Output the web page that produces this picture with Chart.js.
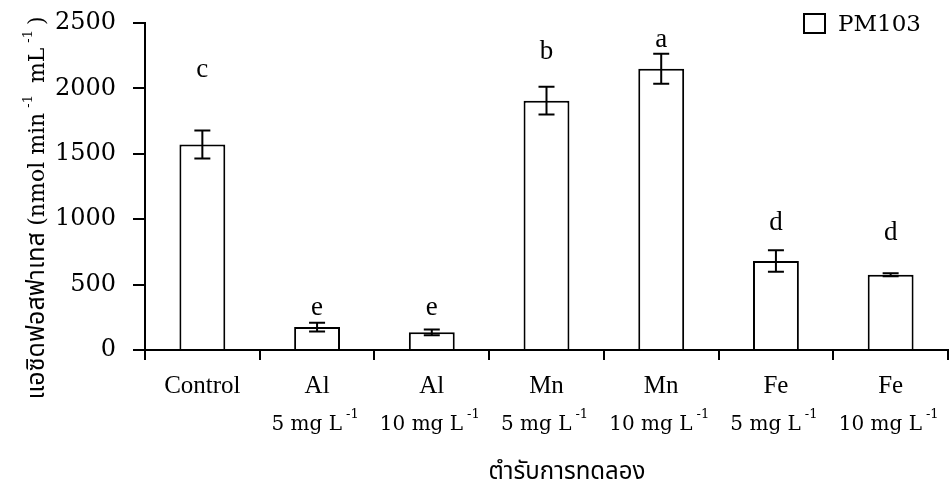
<!DOCTYPE html>
<html>
<head>
<meta charset="utf-8">
<script src="https://cdn.jsdelivr.net/npm/chart.js@4.4.1/dist/chart.umd.min.js"></script>
<style>
  html, body { margin: 0; padding: 0; background: #fff; }
  #wrap { width: 951px; height: 483px; }
</style>
</head>
<body>
<div id="wrap"><canvas id="c" width="951" height="483"></canvas></div>
<script>
// Treatments: element name (first label line) and dose (second label line)
const treatments = ['Control', 'Al', 'Al', 'Mn', 'Mn', 'Fe', 'Fe'];
const doses = ['', '5 mg L', '10 mg L', '5 mg L', '10 mg L', '5 mg L', '10 mg L'];

// Acid phosphatase activity (nmol min-1 mL-1), mean and standard error
const activity = [1572, 175, 135, 1906, 2150, 680, 575];
const stdErr = [107, 33, 22, 106, 115, 82, 12];

// Statistical grouping letters and the level (in data units) they sit at
const groupLetters = ['c', 'e', 'e', 'b', 'a', 'd', 'd'];
const letterLevel = [2140, 322, 322, 2280, 2370, 972, 896];

// Value axis
const yMin = 0;
const yMax = 2500;
const yStep = 500;

const seriesName = 'PM103';
const yTitleThai = 'แอซิดฟอสฟาเทส';
const yTitleUnit = [['(nmol min', false], ['-1', true], [' mL', false], ['-1', true], [')', false]];
const xTitle = 'ตำรับการทดลอง';

const SERIF = '"DejaVu Serif", serif';
const TIMES = '"Liberation Serif", "Times New Roman", serif';
const THAI = '"Noto Sans Thai", "Noto Sans Thai Looped", Loma, Garuda, Tahoma, sans-serif';

// Width of a run of [text, isSuperscript] pieces
function runWidth(ctx, parts, font, supFont, supGap) {
  let w = 0;
  parts.forEach(([t, sup]) => {
    ctx.font = sup ? supFont : font;
    w += ctx.measureText(t).width + (sup ? supGap * 2 : 0);
  });
  return w;
}
// Draws a run of [text, isSuperscript] pieces starting at x on baseline y
function drawRun(ctx, parts, x, y, font, supFont, supGap, supRise) {
  parts.forEach(([t, sup]) => {
    ctx.font = sup ? supFont : font;
    if (sup) x += supGap;
    ctx.fillText(t, x, sup ? y - supRise : y);
    x += ctx.measureText(t).width + (sup ? supGap : 0);
  });
}

const annotations = {
  id: 'annotations',
  afterDatasetsDraw(chart) {
    const { ctx } = chart;
    const xs = chart.scales.x;
    const ys = chart.scales.y;
    ctx.save();
    ctx.fillStyle = '#000';
    ctx.strokeStyle = '#000';

    // error bars
    ctx.lineWidth = 2;
    const cap = 8;
    activity.forEach((v, i) => {
      const x = xs.getPixelForValue(i);
      const top = ys.getPixelForValue(v + stdErr[i]);
      const bot = ys.getPixelForValue(v - stdErr[i]);
      ctx.beginPath();
      ctx.moveTo(x, top); ctx.lineTo(x, bot);
      ctx.moveTo(x - cap, top); ctx.lineTo(x + cap, top);
      ctx.moveTo(x - cap, bot); ctx.lineTo(x + cap, bot);
      ctx.stroke();
    });

    // grouping letters
    ctx.font = '27px ' + TIMES;
    ctx.textAlign = 'center';
    ctx.textBaseline = 'middle';
    groupLetters.forEach((l, i) => {
      ctx.fillText(l, xs.getPixelForValue(i), ys.getPixelForValue(letterLevel[i]));
    });

    // second line of category labels: dose with superscript unit
    ctx.textAlign = 'left';
    ctx.textBaseline = 'alphabetic';
    const f = '20px ' + SERIF;
    const sf = '13px ' + SERIF;
    doses.forEach((d, i) => {
      if (!d) return;
      const parts = [[d, false], ['-1', true]];
      const w = runWidth(ctx, parts, f, sf, 4);
      drawRun(ctx, parts, xs.getPixelForValue(i) - w / 2, 430, f, sf, 4, 12);
    });

    // x axis title
    ctx.font = '24px ' + THAI;
    ctx.textAlign = 'center';
    ctx.textBaseline = 'alphabetic';
    ctx.fillText(xTitle, 567, 479);

    // y axis title, rotated
    ctx.save();
    ctx.translate(44, 208);
    ctx.rotate(-Math.PI / 2);
    ctx.textAlign = 'left';
    const yf = '22px ' + SERIF;
    const ysf = '13px ' + SERIF;
    ctx.font = '25px ' + THAI;
    const thaiW = ctx.measureText(yTitleThai + ' ').width;
    const unitW = runWidth(ctx, yTitleUnit, yf, ysf, 5);
    const start = -(thaiW + unitW) / 2;
    ctx.font = '25px ' + THAI;
    ctx.fillText(yTitleThai + ' ', start, 0);
    drawRun(ctx, yTitleUnit, start + thaiW, 0, yf, ysf, 5, 12);
    ctx.restore();

    // legend
    const ds = chart.data.datasets[0];
    ctx.lineWidth = 2;
    ctx.strokeStyle = ds.borderColor;
    ctx.fillStyle = ds.backgroundColor;
    ctx.fillRect(804, 14, 21, 19);
    ctx.strokeRect(804, 14, 21, 19);
    ctx.fillStyle = '#000';
    ctx.font = '23px ' + SERIF;
    ctx.textAlign = 'left';
    ctx.textBaseline = 'middle';
    ctx.fillText(ds.label, 838, 25);

    ctx.restore();
  }
};

new Chart(document.getElementById('c'), {
  type: 'bar',
  data: {
    labels: treatments,
    datasets: [{
      label: seriesName,
      data: activity,
      backgroundColor: '#ffffff',
      borderColor: '#000000',
      borderWidth: 2,
      borderSkipped: 'bottom',
      categoryPercentage: 1.0,
      barPercentage: 0.4
    }]
  },
  options: {
    responsive: false,
    devicePixelRatio: 1,
    animation: false,
    layout: { padding: { left: 0, right: 3, top: 23, bottom: 0 } },
    plugins: {
      legend: { display: false },
      tooltip: { enabled: false }
    },
    scales: {
      x: {
        grid: {
          display: true,
          drawOnChartArea: false,
          drawTicks: true,
          tickLength: 10,
          color: '#000',
          lineWidth: 2,
          offset: true
        },
        border: { display: true, color: '#000', width: 2 },
        ticks: {
          color: '#000',
          font: { family: TIMES, size: 25 },
          padding: 11,
          maxRotation: 0,
          autoSkip: false
        },
        afterFit(scale) {
          scale.height = 133;
          scale.paddingLeft = 0;
          scale.paddingRight = 0;
        }
      },
      y: {
        min: yMin,
        max: yMax,
        grid: {
          drawOnChartArea: false,
          drawTicks: true,
          tickLength: 12,
          color: '#000',
          lineWidth: 2
        },
        border: { display: true, color: '#000', width: 2 },
        ticks: {
          stepSize: yStep,
          color: '#000',
          font: { family: SERIF, size: 24 },
          padding: 17,
          callback: (v) => String(v)
        },
        afterFit(scale) {
          scale.width = 145;
          scale.paddingTop = 0;
          scale.paddingBottom = 0;
        }
      }
    }
  },
  plugins: [annotations]
});
</script>
</body>
</html>
